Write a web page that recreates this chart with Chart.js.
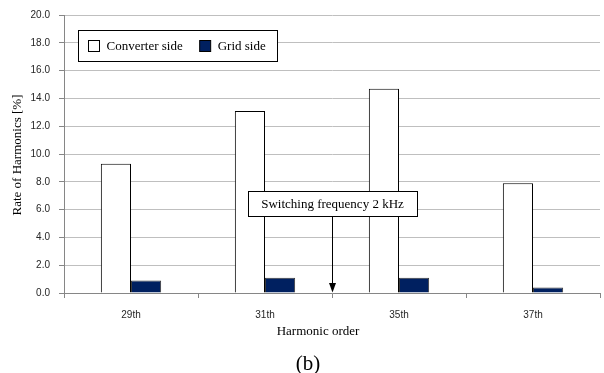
<!DOCTYPE html>
<html>
<head>
<meta charset="utf-8">
<script src="https://cdn.jsdelivr.net/npm/chart.js@4"></script>
<style>
  html, body { margin: 0; padding: 0; background: #ffffff; }
  #wrap { width: 604px; height: 373px; position: relative; }
</style>
</head>
<body>
<div id="wrap"><canvas id="chart" width="604" height="373"></canvas></div>
<script>
// Harmonic orders on the x axis
const harmonics = ['29th', '31th', '35th', '37th'];
// Rate of harmonics [%] on each side of the filter
const converterSide = [9.3, 13.1, 14.7, 7.9];
const gridSide = [0.9, 1.1, 1.1, 0.4];
// Y axis range and step
const yTicks = { min: 0, max: 20, step: 2 };

// Marker for the switching frequency, placed between 31th and 35th
const switchingMarker = {
  text: 'Switching frequency 2 kHz',
  between: [1, 2],
  boxTop: 7.35,
  boxBottom: 5.55
};

const serif = '"Liberation Serif", "Times New Roman", serif';
const sans = '"Liberation Sans", Arial, sans-serif';

// Boxed legend drawn inside the plot area
const boxedLegend = {
  id: 'boxedLegend',
  afterDraw(chart) {
    const ctx = chart.ctx;
    ctx.save();
    ctx.lineWidth = 1;
    ctx.strokeStyle = '#000000';
    ctx.fillStyle = '#ffffff';
    ctx.fillRect(78.5, 30.5, 199, 31);
    ctx.strokeRect(78.5, 30.5, 199, 31);
    ctx.font = '13px ' + serif;
    ctx.textBaseline = 'middle';
    let x = 88.5;
    chart.data.datasets.forEach((ds) => {
      ctx.fillStyle = ds.backgroundColor;
      ctx.fillRect(x, 40.5, 11, 11);
      ctx.strokeStyle = '#000000';
      ctx.strokeRect(x, 40.5, 11, 11);
      ctx.fillStyle = '#000000';
      ctx.fillText(ds.label, x + 18, 47);
      x += 18 + ctx.measureText(ds.label).width + 17;
    });
    ctx.restore();
  }
};

// Labelled arrow pointing at the switching frequency on the x axis
const markerArrow = {
  id: 'markerArrow',
  afterDatasetsDraw(chart) {
    const { ctx, scales } = chart;
    const xs = scales.x, ys = scales.y;
    const ax = Math.round((xs.getPixelForValue(switchingMarker.between[0]) +
                           xs.getPixelForValue(switchingMarker.between[1])) / 2) + 0.5;
    const top = Math.round(ys.getPixelForValue(switchingMarker.boxTop)) + 0.5;
    const bottom = Math.round(ys.getPixelForValue(switchingMarker.boxBottom)) + 0.5;
    const base = ys.getPixelForValue(0);
    ctx.save();
    ctx.font = '13px ' + serif;
    const tw = ctx.measureText(switchingMarker.text).width;
    const bw = Math.round(tw + 26);
    const bx = Math.round(ax - bw / 2) + 0.5;
    ctx.fillStyle = '#ffffff';
    ctx.fillRect(bx, top, bw, bottom - top);
    ctx.strokeStyle = '#000000';
    ctx.lineWidth = 1;
    ctx.strokeRect(bx, top, bw, bottom - top);
    ctx.fillStyle = '#000000';
    ctx.textAlign = 'center';
    ctx.textBaseline = 'middle';
    ctx.fillText(switchingMarker.text, ax, (top + bottom) / 2 + 0.5);
    // shaft
    ctx.beginPath();
    ctx.moveTo(ax, bottom);
    ctx.lineTo(ax, base - 9);
    ctx.stroke();
    // head
    ctx.beginPath();
    ctx.moveTo(ax - 3.5, base - 10);
    ctx.lineTo(ax + 3.5, base - 10);
    ctx.lineTo(ax, base - 0.5);
    ctx.closePath();
    ctx.fill();
    ctx.restore();
  }
};

// Axis titles and panel caption below the plot
const captions = {
  id: 'captions',
  afterDraw(chart) {
    const ctx = chart.ctx;
    ctx.save();
    ctx.fillStyle = '#000000';
    ctx.textAlign = 'center';
    ctx.textBaseline = 'middle';
    ctx.font = '13px ' + serif;
    ctx.fillText('Harmonic order', 318, 332);
    ctx.font = '21px ' + serif;
    ctx.textBaseline = 'alphabetic';
    ctx.fillText('(b)', 308, 370);
    ctx.save();
    ctx.translate(18, 155);
    ctx.rotate(-Math.PI / 2);
    ctx.font = '13px ' + serif;
    ctx.textBaseline = 'middle';
    ctx.fillText('Rate of Harmonics [%]', 0, 0);
    ctx.restore();
    ctx.restore();
  }
};

new Chart(document.getElementById('chart'), {
  type: 'bar',
  data: {
    labels: harmonics,
    datasets: [
      {
        label: 'Converter side',
        data: converterSide,
        backgroundColor: '#ffffff',
        borderColor: '#000000',
        borderWidth: 1
      },
      {
        label: 'Grid side',
        data: gridSide,
        backgroundColor: '#002060',
        borderColor: '#3a3a3a',
        borderWidth: 1
      }
    ]
  },
  options: {
    responsive: false,
    animation: false,
    devicePixelRatio: 1,
    layout: { padding: { top: 14, right: 4, left: 0, bottom: 0 } },
    datasets: {
      bar: { categoryPercentage: 0.45, barPercentage: 1.0 }
    },
    plugins: {
      legend: { display: false },
      tooltip: { enabled: false },
      title: { display: false }
    },
    scales: {
      x: {
        grid: {
          display: true,
          drawOnChartArea: false,
          drawTicks: true,
          tickLength: 5,
          color: '#868686'
        },
        border: { display: true, color: '#868686', width: 1 },
        ticks: {
          color: '#262626',
          font: { family: sans, size: 10 },
          padding: 11,
          maxRotation: 0
        },
        afterFit(scale) { scale.height = 80; }
      },
      y: {
        min: yTicks.min,
        max: yTicks.max,
        grid: {
          color: '#bfbfbf',
          tickLength: 5,
          tickColor: '#868686'
        },
        border: { display: true, color: '#868686', width: 1 },
        ticks: {
          stepSize: yTicks.step,
          color: '#262626',
          font: { family: sans, size: 10 },
          padding: 9,
          callback: (v) => Number(v).toFixed(1)
        },
        afterFit(scale) { scale.width = 64; }
      }
    }
  },
  plugins: [markerArrow, boxedLegend, captions]
});
</script>
</body>
</html>
